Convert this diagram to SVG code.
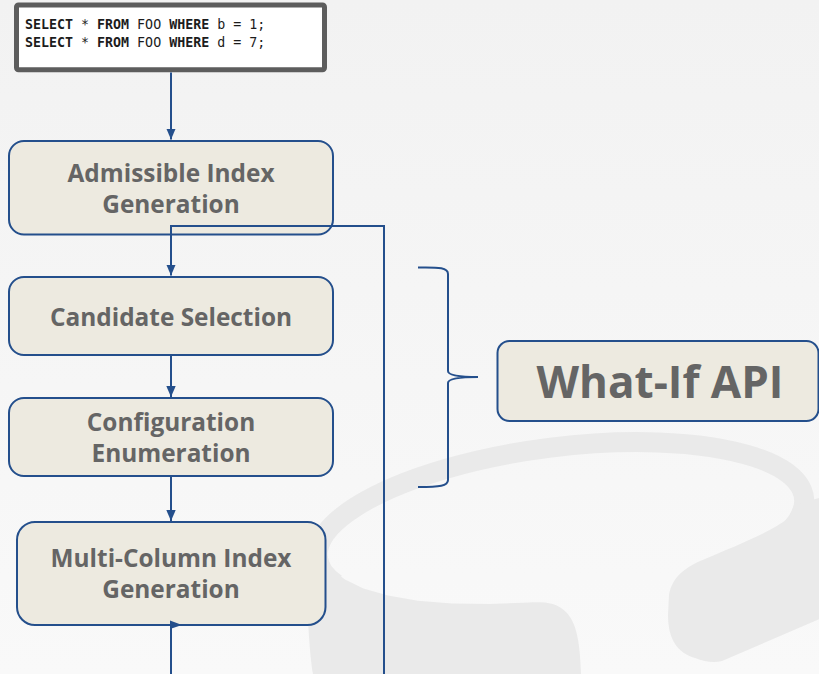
<svg xmlns="http://www.w3.org/2000/svg" width="819" height="674" viewBox="0 0 819 674">
  <defs>
    <linearGradient id="bg" x1="0" y1="0" x2="0" y2="1">
      <stop offset="0" stop-color="#f2f2f2"/>
      <stop offset="1" stop-color="#f9f9f9"/>
    </linearGradient>
    <marker id="arrow" markerUnits="userSpaceOnUse" markerWidth="12" markerHeight="10" refX="11" refY="4.7" orient="auto">
      <path d="M0,0 L11,4.7 L0,9.4 Z" fill="#244f8c"/>
    </marker>
    <style>
      .node rect { fill: #edeae0; stroke: #244f8c; stroke-width: 2; }
      .label { font-family: "Open Sans", Lato, "Liberation Sans", sans-serif; font-weight: 700; fill: #656565; text-anchor: middle; }
      .wire { fill: none; stroke: #244f8c; stroke-width: 2; }
      .sql { font-family: "DejaVu Sans Mono", "Liberation Mono", monospace; font-size: 13.3px; fill: #1c1c1c; }
      .kw { font-weight: 700; }
      .mark { fill: #eaeaea; }
    </style>
  </defs>

  <!-- slide background -->
  <rect width="819" height="674" fill="url(#bg)"/>

  <!-- faint logo watermark: tilted ring (upper arc) with two legs -->
  <g id="watermark">
    <path d="M336,584 A245,81 -7.1 1 1 792.8,527" fill="none" stroke="#eaeaea" stroke-width="20"/>
    <path class="mark" d="M320,545 L327.8,557 L330.8,568.8 L345,579.4 L363.4,588.4 L388,595.6 L417.8,600.7
                          L452,603.5 L489.5,604.1 L529,602.4
                          C545,602 556,602 566,612 C576,622 580,640 581,674
                          L313,674 C309,650 306,600 308,559.5 Z"/>
    <path class="mark" d="M794,505.2 L788.6,518.1 C770,533 730,548 705,559 C685,567 672,577 669,595 L668,615
                          C668,640 678,653 695,658 C705,662 714,663 722,661 L822,618 L822,497 Z"/>
  </g>

  <!-- query input -->
  <g id="query">
    <rect x="16.5" y="5" width="308" height="64.8" rx="2" fill="#ffffff" stroke="#5d5d5d" stroke-width="5"/>
    <text class="sql" x="25" y="29.3"><tspan class="kw">SELECT</tspan> * <tspan class="kw">FROM</tspan> FOO <tspan class="kw">WHERE</tspan> b = 1;</text>
    <text class="sql" x="25" y="46.7"><tspan class="kw">SELECT</tspan> * <tspan class="kw">FROM</tspan> FOO <tspan class="kw">WHERE</tspan> d = 7;</text>
  </g>

  <g id="admissible" class="node">
    <rect x="9" y="141" width="324" height="93.5" rx="15"/>
    <text class="label" x="171" y="182" font-size="24.4">Admissible Index</text>
    <text class="label" x="171" y="213" font-size="24.4">Generation</text>
  </g>

  <g id="candidate" class="node">
    <rect x="9" y="277" width="324" height="78" rx="15"/>
    <text class="label" x="171" y="326" font-size="24.4">Candidate Selection</text>
  </g>

  <g id="enumeration" class="node">
    <rect x="9" y="398" width="324" height="78" rx="15"/>
    <text class="label" x="171" y="431" font-size="24.4">Configuration</text>
    <text class="label" x="171" y="462" font-size="24.4">Enumeration</text>
  </g>

  <g id="multicolumn" class="node">
    <rect x="17" y="522" width="308.5" height="103" rx="18"/>
    <text class="label" x="171" y="567" font-size="24.4">Multi-Column Index</text>
    <text class="label" x="171" y="598" font-size="24.4">Generation</text>
  </g>

  <g id="whatif" class="node">
    <rect x="497.5" y="341" width="321" height="80" rx="12"/>
    <text class="label" x="660" y="398" font-size="44">What-If API</text>
  </g>

  <!-- connectors -->
  <g id="connectors">
    <path class="wire" d="M171,72.5 V139.5" marker-end="url(#arrow)"/>
    <path class="wire" d="M384,674 V226 H171 V275.5" marker-end="url(#arrow)"/>
    <path class="wire" d="M171,355 V397" marker-end="url(#arrow)"/>
    <path class="wire" d="M171,476 V521" marker-end="url(#arrow)"/>
    <path class="wire" d="M171,674 V624"/>
    <path d="M170,620.5 L182,625 L170,629 Z" fill="#244f8c"/>
    <!-- brace grouping the steps that call the what-if interface -->
    <path class="wire" d="M418,267.5 C440,267 448,268 448,274 V371 C448,375 458,377 478,377 C458,377 448,379 448,383 V480 C448,486 440,487 418,487"/>
  </g>
</svg>
